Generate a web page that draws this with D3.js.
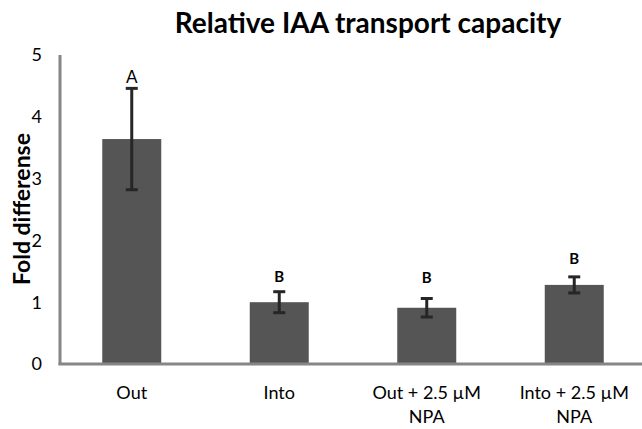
<!DOCTYPE html>
<html>
<head>
<meta charset="utf-8">
<script src="https://cdn.jsdelivr.net/npm/d3@7"></script>
<style>
  html, body { margin: 0; padding: 0; background: #fff; }
  svg { display: block; font-family: Lato, "Open Sans", sans-serif; }
</style>
</head>
<body>
<svg id="chart" width="642" height="429"></svg>
<script>
// Treatments along the x axis (each label may wrap onto two lines)
const categories = [["Out"], ["Into"], ["Out + 2.5 \u00b5M", "NPA"], ["Into + 2.5 \u00b5M", "NPA"]];
// Mean fold difference and error (±) per treatment
const means  = [3.64, 1.00, 0.91, 1.28];
const errors = [0.82, 0.17, 0.15, 0.13];
// Significance letters and the level (in data units) where each is written
const letters      = ["A", "B", "B", "B"];
const letterLevels = [4.64, 1.41, 1.39, 1.70];
const letterBold   = [false, true, true, true];
const yTicks = [0, 1, 2, 3, 4, 5];

const svg = d3.select("#chart");
const axisX = 60, plotLeft = 58, plotRight = 648, plotTop = 55, plotBottom = 364;

const x = d3.scaleBand().domain(d3.range(categories.length)).range([plotLeft, plotRight]).padding(0);
const y = d3.scaleLinear().domain([0, 5]).range([plotBottom, plotTop]);
const barW = x.bandwidth() * 0.4;

// Title
svg.append("text")
  .attr("x", 368).attr("y", 33)
  .attr("text-anchor", "middle")
  .style("font-size", "28px").style("font-weight", "bold").attr("fill", "#000")
  .text("Relative IAA transport capacity");

// Y axis title
svg.append("text")
  .attr("transform", `translate(30,209) rotate(-90)`)
  .attr("text-anchor", "middle")
  .style("font-size", "23px").style("font-weight", "bold").attr("fill", "#000")
  .text("Fold differense");

// Y tick labels
svg.append("g").selectAll("text").data(yTicks).join("text")
  .attr("x", 42).attr("y", d => y(d)).attr("dy", "0.35em")
  .attr("text-anchor", "end")
  .style("font-size", "18px").attr("fill", "#000")
  .text(d => d);

// Bars
svg.append("g").selectAll("rect").data(means).join("rect")
  .attr("x", (d, i) => x(i) + (x.bandwidth() - barW) / 2)
  .attr("y", d => y(d))
  .attr("width", barW)
  .attr("height", d => plotBottom - y(d))
  .attr("fill", "#555555");

// Axis lines
svg.append("line").attr("x1", axisX).attr("x2", axisX).attr("y1", plotTop).attr("y2", plotBottom + 1)
  .attr("stroke", "#868686").attr("stroke-width", 3);
svg.append("line").attr("x1", axisX - 1.5).attr("x2", 642).attr("y1", plotBottom).attr("y2", plotBottom)
  .attr("stroke", "#868686").attr("stroke-width", 3);

// Error bars
const eb = svg.append("g").attr("stroke", "#262626").attr("stroke-width", 3);
means.forEach((m, i) => {
  const cx = x(i) + x.bandwidth() / 2;
  const hi = y(m + errors[i]), lo = y(m - errors[i]);
  eb.append("line").attr("x1", cx).attr("x2", cx).attr("y1", hi).attr("y2", lo);
  eb.append("line").attr("x1", cx - 6).attr("x2", cx + 6).attr("y1", hi).attr("y2", hi);
  eb.append("line").attr("x1", cx - 6).attr("x2", cx + 6).attr("y1", lo).attr("y2", lo);
});

// Significance letters
svg.append("g").selectAll("text").data(letters).join("text")
  .attr("x", (d, i) => x(i) + x.bandwidth() / 2)
  .attr("y", (d, i) => y(letterLevels[i])).attr("dy", "0.35em")
  .attr("text-anchor", "middle")
  .style("font-size", (d, i) => letterBold[i] ? "15px" : "17px")
  .style("font-weight", (d, i) => letterBold[i] ? "bold" : "normal")
  .attr("fill", "#000")
  .text(d => d);

// Category labels
const xl = svg.append("g");
categories.forEach((lines, i) => {
  const t = xl.append("text")
    .attr("x", x(i) + x.bandwidth() / 2).attr("y", 399)
    .attr("text-anchor", "middle")
    .style("font-size", "18px").attr("fill", "#000");
  lines.forEach((ln, j) => {
    t.append("tspan").attr("x", x(i) + x.bandwidth() / 2).attr("dy", j === 0 ? 0 : 24).text(ln);
  });
});
</script>
</body>
</html>
